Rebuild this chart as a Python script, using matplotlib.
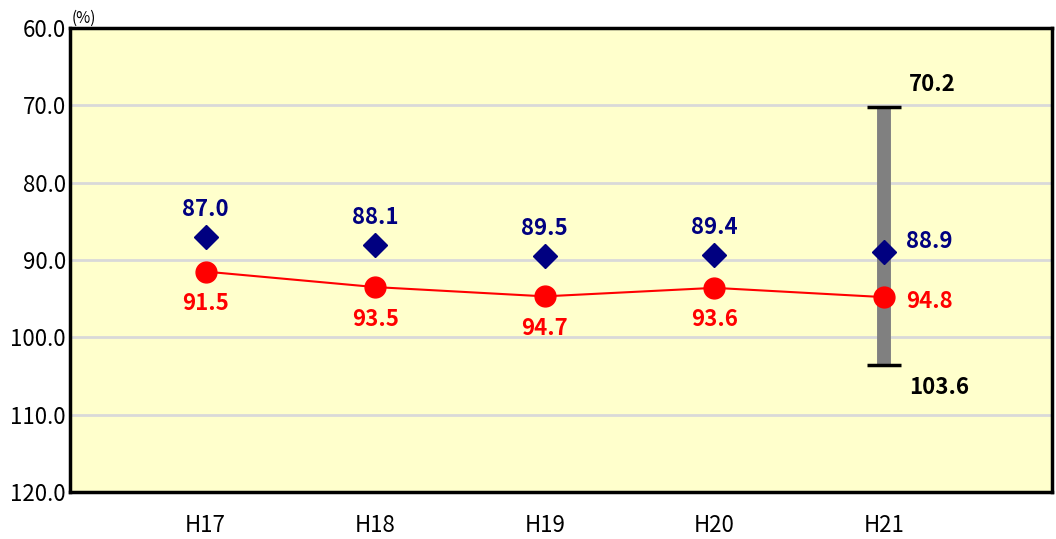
import matplotlib
matplotlib.use("Agg")
import matplotlib.pyplot as plt

plt.rcParams['font.family'] = ['Noto Sans CJK JP', 'DejaVu Sans']

years = ["H17", "H18", "H19", "H20", "H21"]
red_vals = [91.5, 93.5, 94.7, 93.6, 94.8]
navy_vals = [87.0, 88.1, 89.5, 89.4, 88.9]
range_top = 70.2
range_bottom = 103.6

fig = plt.figure(figsize=(10.56, 5.39), dpi=100)
ax = fig.add_axes([0.0663, 0.0872, 0.9297, 0.8608])
ax.set_facecolor("#FFFFCC")

x = list(range(len(years)))
last = x[-1]

# range bar for H21
ax.plot([last, last], [range_top, range_bottom], color="#808080", lw=10, solid_capstyle="butt", zorder=2)
for v in (range_top, range_bottom):
    ax.plot([last - 0.1, last + 0.1], [v, v], color="black", lw=2.5, solid_capstyle="butt", zorder=3)

ax.plot(x, red_vals, color="#FF0000", lw=1.5, marker="o", ms=15, zorder=4)
ax.plot(x, navy_vals, ls="none", marker="D", ms=12.5, color="#000080", zorder=5)

fs = 16
for i, (r, n) in enumerate(zip(red_vals, navy_vals)):
    if i == last:
        ax.annotate(f"{n:.1f}", (i, n), xytext=(16, 7), textcoords="offset points",
                    ha="left", va="center", color="#000080", fontsize=fs, fontweight="bold")
        ax.annotate(f"{r:.1f}", (i, r), xytext=(16, -3), textcoords="offset points",
                    ha="left", va="center", color="#FF0000", fontsize=fs, fontweight="bold")
    else:
        ax.annotate(f"{n:.1f}", (i, n), xytext=(0, 20), textcoords="offset points",
                    ha="center", va="center", color="#000080", fontsize=fs, fontweight="bold")
        ax.annotate(f"{r:.1f}", (i, r), xytext=(0, -23), textcoords="offset points",
                    ha="center", va="center", color="#FF0000", fontsize=fs, fontweight="bold")

ax.annotate(f"{range_top:.1f}", (last, range_top), xytext=(18, 16), textcoords="offset points",
            ha="left", va="center", color="black", fontsize=fs, fontweight="bold")
ax.annotate(f"{range_bottom:.1f}", (last, range_bottom), xytext=(18, -16), textcoords="offset points",
            ha="left", va="center", color="black", fontsize=fs, fontweight="bold")

ax.set_ylim(120, 60)
yt = [60, 70, 80, 90, 100, 110, 120]
ax.set_yticks(yt)
ax.set_yticklabels([f"{v:.1f}" for v in yt], fontsize=16)
ax.set_xlim(-0.80, 4.99)
ax.set_xticks(x)
ax.set_xticklabels(years, fontsize=16)
ax.tick_params(length=0, pad=3)
ax.tick_params(axis="x", pad=16)
ax.grid(axis="y", color="#D9D9D9", lw=2)
ax.set_axisbelow(True)
for s in ax.spines.values():
    s.set_linewidth(2.5)
    s.set_color("black")

ax.text(0.002, 1.003, "(%)", transform=ax.transAxes, ha="left", va="bottom", fontsize=11)

fig.savefig("out.png", dpi=100)
